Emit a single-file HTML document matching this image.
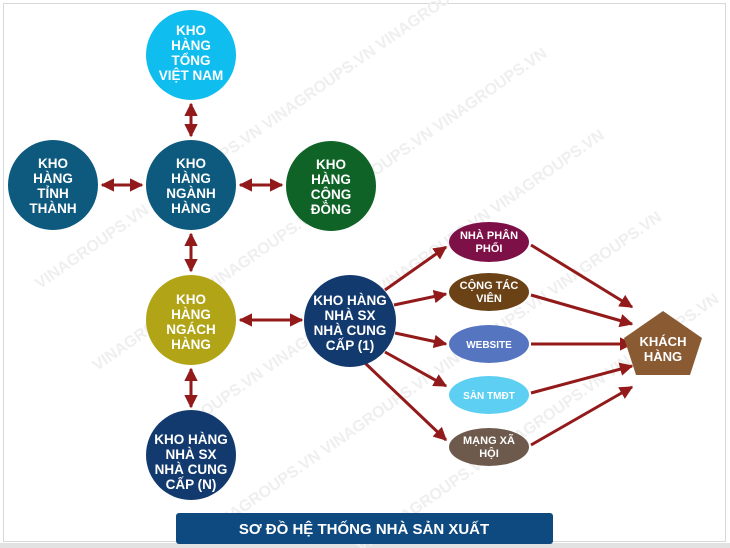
<!DOCTYPE html>
<html><head><meta charset="utf-8"><style>
html,body{margin:0;padding:0;background:#fff;width:730px;height:548px;overflow:hidden}
svg{display:block;overflow:hidden}
text{font-family:"Liberation Sans",sans-serif;font-weight:bold;fill:#fff;text-anchor:middle}
</style></head><body>
<svg width="730" height="548" viewBox="0 0 730 548" xmlns="http://www.w3.org/2000/svg">
<defs>
<marker id="a" viewBox="0 0 10 10" refX="9" refY="5" markerWidth="4.5" markerHeight="4.5" orient="auto-start-reverse"><path d="M0,0 L10,5 L0,10 z" fill="#931a1a"/></marker>
<clipPath id="c"><rect x="0" y="0" width="730" height="548"/></clipPath>
</defs>
<rect x="0" y="0" width="730" height="548" fill="#fff"/>
<rect x="3.5" y="3.5" width="722" height="538" fill="none" stroke="#d8d8d8"/>
<rect x="0" y="543" width="730" height="5" fill="#e2e2e2"/>
<g clip-path="url(#c)">
<g font-size="16" font-family="Liberation Sans,sans-serif" font-weight="bold">
<g transform="rotate(-35 365 274)">
<text x="365" y="100" style="fill:#efefef">VINAGROUPS.VN    VINAGROUPS.VN    VINAGROUPS.VN    VINAGROUPS.VN</text>
<text x="365" y="200" style="fill:#efefef">VINAGROUPS.VN    VINAGROUPS.VN    VINAGROUPS.VN    VINAGROUPS.VN</text>
<text x="365" y="300" style="fill:#efefef">VINAGROUPS.VN    VINAGROUPS.VN    VINAGROUPS.VN    VINAGROUPS.VN</text>
<text x="365" y="400" style="fill:#efefef">VINAGROUPS.VN    VINAGROUPS.VN    VINAGROUPS.VN    VINAGROUPS.VN</text>
<text x="365" y="500" style="fill:#efefef">VINAGROUPS.VN    VINAGROUPS.VN    VINAGROUPS.VN    VINAGROUPS.VN</text>
</g></g></g>
<g stroke="#931a1a" stroke-width="3" marker-start="url(#a)" marker-end="url(#a)">
<line x1="191" y1="104" x2="191" y2="136"/>
<line x1="102" y1="185" x2="142" y2="185"/>
<line x1="240" y1="185" x2="282" y2="185"/>
<line x1="191" y1="234" x2="191" y2="271"/>
<line x1="240" y1="320" x2="302" y2="320"/>
<line x1="191" y1="369" x2="191" y2="407"/>
</g>
<g stroke="#931a1a" stroke-width="3" marker-end="url(#a)">
<line x1="385" y1="290" x2="446" y2="247"/>
<line x1="394" y1="305" x2="446" y2="294"/>
<line x1="395" y1="333" x2="446" y2="344"/>
<line x1="385" y1="352" x2="446" y2="386"/>
<line x1="365" y1="363" x2="446" y2="440"/>
<line x1="531" y1="245" x2="632" y2="307"/>
<line x1="531" y1="295" x2="632" y2="324"/>
<line x1="531" y1="344" x2="632" y2="344"/>
<line x1="531" y1="393" x2="632" y2="366"/>
<line x1="531" y1="445" x2="632" y2="387"/>
</g>
<circle cx="191" cy="55" r="45" fill="#0fbdef"/>
<circle cx="53" cy="185" r="45" fill="#0d5a7e"/>
<circle cx="191" cy="185" r="45" fill="#0d5a7e"/>
<circle cx="331" cy="186" r="45" fill="#0f6326"/>
<circle cx="191" cy="320" r="45" fill="#b1a416"/>
<circle cx="350" cy="321" r="46" fill="#133a6e"/>
<circle cx="191" cy="455" r="45" fill="#133a6e"/>
<g font-size="13.5">
<text x="191" y="35">KHO</text><text x="191" y="50">HÀNG</text><text x="191" y="65">TỔNG</text><text x="191" y="80">VIỆT NAM</text>
<text x="53" y="168">KHO</text><text x="53" y="183">HÀNG</text><text x="53" y="198">TỈNH</text><text x="53" y="213">THÀNH</text>
<text x="191" y="168">KHO</text><text x="191" y="183">HÀNG</text><text x="191" y="198">NGÀNH</text><text x="191" y="213">HÀNG</text>
<text x="331" y="169">KHO</text><text x="331" y="184">HÀNG</text><text x="331" y="199">CỘNG</text><text x="331" y="214">ĐỒNG</text>
<text x="191" y="304">KHO</text><text x="191" y="319">HÀNG</text><text x="191" y="334">NGÁCH</text><text x="191" y="349">HÀNG</text>
<text x="350" y="305">KHO HÀNG</text><text x="350" y="320">NHÀ SX</text><text x="350" y="335">NHÀ CUNG</text><text x="350" y="350">CẤP (1)</text>
<text x="191" y="444">KHO HÀNG</text><text x="191" y="459">NHÀ SX</text><text x="191" y="474">NHÀ CUNG</text><text x="191" y="489">CẤP (N)</text>
</g>
<ellipse cx="489" cy="242" rx="40" ry="20" fill="#7d1046"/>
<ellipse cx="489" cy="292" rx="40" ry="19" fill="#6b4216"/>
<ellipse cx="489" cy="344" rx="40" ry="19" fill="#5575c0"/>
<ellipse cx="489" cy="395" rx="40" ry="19" fill="#5ccff2"/>
<ellipse cx="489" cy="447" rx="40" ry="19" fill="#6e5a4c"/>
<g font-size="11">
<text x="489" y="239">NHÀ PHÂN</text><text x="489" y="252">PHỐI</text>
<text x="489" y="289">CỘNG TÁC</text><text x="489" y="302">VIÊN</text>
<text x="489" y="348" font-size="10">WEBSITE</text>
<text x="489" y="399" font-size="10">SÀN TMĐT</text>
<text x="489" y="444">MẠNG XÃ</text><text x="489" y="457">HỘI</text>
</g>
<polygon points="663,311 702,338 690,375 636,375 624,338" fill="#8a5a33"/>
<text x="663" y="346" font-size="13">KHÁCH</text><text x="663" y="361" font-size="13">HÀNG</text>
<rect x="176" y="513" width="377" height="31" rx="3" fill="#0e4a80"/>
<text x="364" y="534" font-size="15">SƠ ĐỒ HỆ THỐNG NHÀ SẢN XUẤT</text>
</svg>
</body></html>
